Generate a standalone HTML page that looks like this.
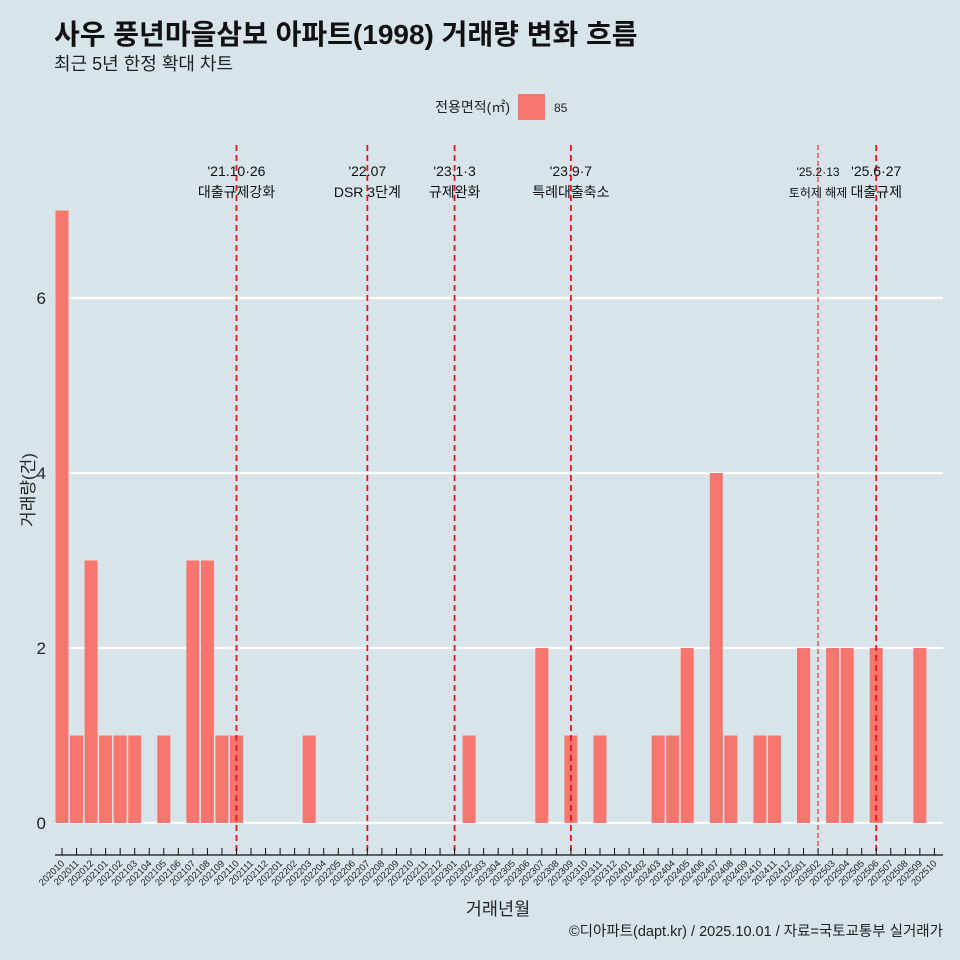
<!DOCTYPE html>
<html><head><meta charset="utf-8">
<style>
body{margin:0;background:#d7e4ea;}
svg{display:block;font-family:"Liberation Sans","Noto Sans CJK KR",sans-serif;}
</style></head>
<body>
<svg id="chart" width="960" height="960" viewBox="0 0 960 960">
<rect width="960" height="960" fill="#d7e4ea"/>
<text x="54" y="44" font-size="28" font-weight="bold" fill="#111">사우 풍년마을삼보 아파트(1998) 거래량 변화 흐름</text>
<text x="54" y="70" font-size="18" fill="#222">최근 5년 한정 확대 차트</text>
<g>
<text x="510" y="112" font-size="14" text-anchor="end" fill="#222">전용면적(㎡)</text>
<rect x="518" y="94" width="27" height="26" fill="#f8766d"/>
<text x="554" y="112" font-size="12" fill="#222">85</text>
</g>
<g id="grid"></g>
<g id="bars"></g>
<g id="events"></g>
<g id="xaxis"></g>
<text transform="translate(34,490) rotate(-90)" font-size="17" text-anchor="middle" fill="#222">거래량(건)</text>
<text x="498" y="915" font-size="17.5" text-anchor="middle" fill="#222">거래년월</text>
<text x="943" y="936" font-size="14.5" text-anchor="end" fill="#222">©디아파트(dapt.kr) / 2025.10.01 / 자료=국토교통부 실거래가</text>
</svg>
<script>
const months = [];
for (let y = 2020, m = 10; !(y === 2025 && m === 11); ) { months.push(String(y) + String(m).padStart(2, '0')); m++; if (m > 12) { m = 1; y++; } }
const values = [7,1,3,1,1,1,0,1,0,3,3,1,1,0,0,0,0,1,0,0,0,0,0,0,0,0,0,0,1,0,0,0,0,2,0,1,0,1,0,0,0,1,1,2,0,4,1,0,1,1,0,2,0,2,2,0,2,0,0,2,0];
const yTicks = [0,2,4,6];
const eventMonths = ['202110','202207','202301','202309','202502','202506'];
const eventDates = ["'21.10·26","'22.07","'23.1·3","'23.9·7","'25.2·13","'25.6·27"];
const eventLabels = ['대출규제강화','DSR 3단계','규제완화','특례대출축소','토허제 해제','대출규제'];
const eventMinor = [false,false,false,false,true,false];

const NS = 'http://www.w3.org/2000/svg';
const x0 = 62, step = 14.54, bw = 13;
const xs = i => x0 + step * i;
const ys = v => 823 - 87.5 * v;
function mk(tag, attrs, parent, text) {
  const e = document.createElementNS(NS, tag);
  for (const k in attrs) e.setAttribute(k, attrs[k]);
  if (text !== undefined) e.textContent = text;
  parent.appendChild(e); return e;
}
const grid = document.getElementById('grid');
yTicks.forEach(t => {
  const l = mk('line', {x1: 55, x2: 943, y1: ys(t), y2: ys(t), stroke: '#fff', 'stroke-width': 2.2}, grid);
  
  
  const tx = mk('text', {x: 46, y: ys(t) + 6, 'font-size': 17, 'text-anchor': 'end', fill: '#222'}, grid, String(t));
  
  
});
const bars = document.getElementById('bars');
values.forEach((v, i) => {
  if (v <= 0) return;
  const r = mk('rect', {x: xs(i) - bw / 2, y: ys(v), width: bw, height: ys(0) - ys(v), fill: '#f8766d'}, bars);
  
  
});
const ev = document.getElementById('events');
eventMonths.forEach((m, k) => {
  const i = months.indexOf(m); const x = xs(i);
  const minor = eventMinor[k];
  const l = mk('line', {x1: x, x2: x, y1: 145, y2: 852, stroke: '#ee1111', 'stroke-width': minor ? 1 : 1.8, 'stroke-dasharray': minor ? '5,3' : '6,4'}, ev);
  
  
  const fs = minor ? 12 : 14;
  const t1 = mk('text', {x: x, y: 176, 'font-size': fs, 'text-anchor': 'middle', fill: '#111'}, ev, eventDates[k]);
  
  
  const t2 = mk('text', {x: x, y: 197, 'font-size': fs, 'text-anchor': 'middle', fill: '#111'}, ev, eventLabels[k]);
  
  
});
const xa = document.getElementById('xaxis');
const al = mk('line', {x1: 55, x2: 943, y1: 855, y2: 855, stroke: '#111', 'stroke-width': 1.2}, xa);


months.forEach((m, i) => {
  const x = xs(i);
  const tk = mk('line', {x1: x, x2: x, y1: 848, y2: 855, stroke: '#111', 'stroke-width': 1}, xa);
  
  
  const t = mk('text', {x: x + 3, y: 864, 'font-size': 9.5, 'text-anchor': 'end', fill: '#222', transform: `rotate(-45 ${x + 3} 864)`}, xa, m);
  
  
});
</script>
</body></html>
